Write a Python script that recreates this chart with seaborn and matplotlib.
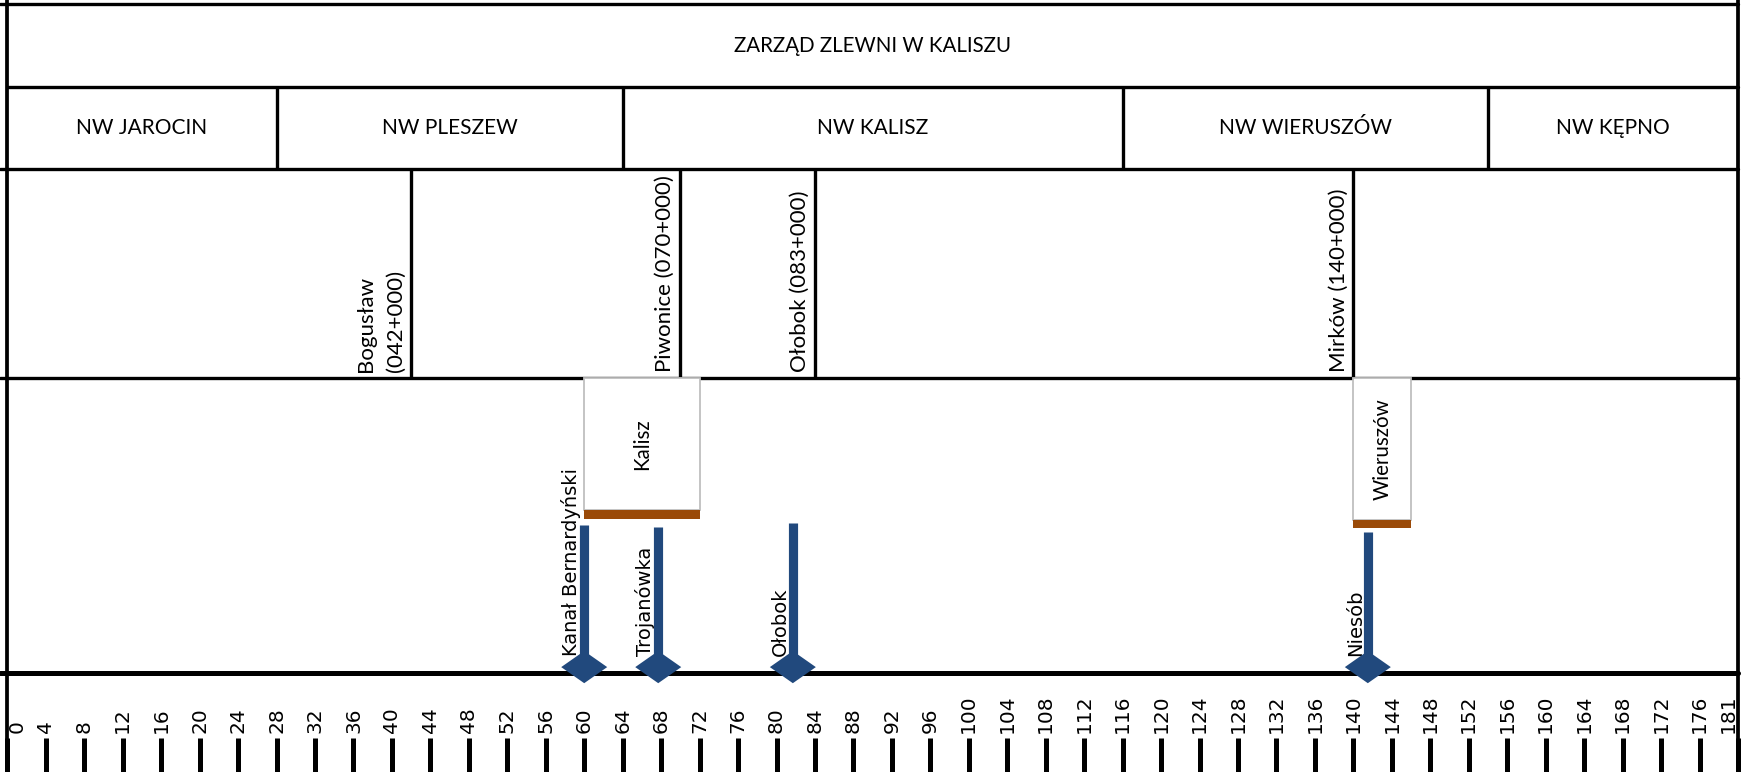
import matplotlib
matplotlib.use("Agg")
import matplotlib.pyplot as plt
import matplotlib.transforms as mtransforms
from matplotlib.markers import MarkerStyle
from matplotlib.path import Path
import seaborn as sns

# ---------------- data ----------------
header_title = "ZARZĄD ZLEWNI W KALISZU"

nw_names = ["NW JAROCIN", "NW PLESZEW", "NW KALISZ", "NW WIERUSZÓW", "NW KĘPNO"]
nw_bounds_km = [0, 28, 64, 116, 154, 180]

station_labels = ["Bogusław\n(042+000)", "Piwonice (070+000)",
                  "Ołobok (083+000)", "Mirków (140+000)"]
station_km = [42, 70, 84, 140]

city_names = ["Kalisz", "Wieruszów"]
city_start_km = [60, 140]
city_end_km = [72, 146]
city_band_bottom = [52.4, 49.3]
city_band_top = [55.3, 51.9]
city_box_top = [100, 100]

river_names = ["Kanał Bernardyński", "Trojanówka", "Ołobok", "Niesób"]
river_km = [60, 67.7, 81.7, 141.5]
river_top = [50.2, 49.5, 50.9, 47.7]
river_mouth = [2, 2, 2, 2]

tick_km = list(range(0, 177, 4)) + [180]
tick_labels = [str(v) for v in range(0, 177, 4)] + ["181"]

# ---------------- style ----------------
sns.set_theme(style="white")
plt.rcParams["font.family"] = ["DejaVu Sans"]
plt.rcParams["xtick.labelsize"] = 14.5
plt.rcParams["xtick.color"] = "black"
plt.rcParams["xtick.labelcolor"] = "black"
TABLE_FONT = ["Lato", "DejaVu Sans"]

BLUE = "#21497D"
BROWN = "#9A4A08"
LW_TABLE = 2.4

# row levels (chart units; 0 = river axis)
Y_ROW4_TOP = 100.0
Y_ROW3_TOP = 171.19
Y_ROW2_TOP = 198.85
Y_TOP = 226.91
Y_BOTTOM = -22.06

W, H = 1745, 772
fig = plt.figure(figsize=(W / 100, H / 100), dpi=100)
ax = fig.add_axes([7.3 / W, (H - 738) / H, (1738 - 7.3) / W, (738 - 4.3) / H])
ax.set_xlim(0, 180)
ax.set_ylim(Y_BOTTOM, Y_TOP)
for s in ax.spines.values():
    s.set_visible(False)
ax.set_facecolor("white")

stub = -7.3 / (1738 - 7.3)
# horizontal table lines
ax.axhline(Y_TOP, xmin=stub, xmax=1, color="black", lw=LW_TABLE, clip_on=False)
ax.axhline(Y_ROW2_TOP, xmin=0, xmax=1, color="black", lw=LW_TABLE, clip_on=False)
ax.axhline(Y_ROW3_TOP, xmin=stub, xmax=1, color="black", lw=LW_TABLE, clip_on=False)
ax.axhline(Y_ROW4_TOP, xmin=stub, xmax=1, color="black", lw=LW_TABLE, clip_on=False)
ax.axhline(0, xmin=stub, xmax=1, color="black", lw=3.6, clip_on=False, zorder=2)
# outer vertical lines (full height)
for xv in (0, 180):
    ax.axvline(xv, ymin=-0.06, ymax=1.01, color="black", lw=LW_TABLE + 0.3, clip_on=False)

# header
ax.text(90, (Y_ROW2_TOP + Y_TOP) / 2, header_title, ha="center", va="center",
        fontsize=14.8, color="black", family=TABLE_FONT)

# NW row
ax.vlines(nw_bounds_km[1:-1], Y_ROW3_TOP, Y_ROW2_TOP, colors="black", lw=LW_TABLE)
for name, a, b in zip(nw_names, nw_bounds_km[:-1], nw_bounds_km[1:]):
    ax.text((a + b) / 2, (Y_ROW3_TOP + Y_ROW2_TOP) / 2, name, ha="center",
            va="center", fontsize=15, color="black", family=TABLE_FONT)

# stations row
ax.vlines(station_km, Y_ROW4_TOP, Y_ROW3_TOP, colors="black", lw=LW_TABLE)
st_tr = mtransforms.offset_copy(ax.transData, fig=fig, x=-5, y=6.6, units="dots")
for lab, km in zip(station_labels, station_km):
    ax.text(km, Y_ROW4_TOP, lab, rotation=90, rotation_mode="anchor",
            ha="left", va="bottom", multialignment="left", fontsize=16,
            color="black", transform=st_tr, linespacing=1.65, family=TABLE_FONT)

# city boxes (stacked bars)
widths = [e - s for s, e in zip(city_start_km, city_end_km)]
ax.bar(city_start_km, [t - b for t, b in zip(city_box_top, city_band_top)],
       width=widths, bottom=city_band_top, align="edge", color="white",
       edgecolor="#BFBFBF", linewidth=1.3, zorder=3)
ax.bar(city_start_km, [t - b for t, b in zip(city_band_top, city_band_bottom)],
       width=widths, bottom=city_band_bottom, align="edge", color=BROWN,
       linewidth=0, zorder=3)
for name, s, e, b, t in zip(city_names, city_start_km, city_end_km,
                            city_band_top, city_box_top):
    ax.text((s + e) / 2, (b + t) / 2, name, rotation=90, ha="center",
            va="center", fontsize=14.8, color="black", zorder=4,
            family=TABLE_FONT)

# rivers
ax.vlines(river_km, river_mouth, river_top, colors=BLUE, lw=6.6, zorder=3)
diamond = MarkerStyle(Path([(-1, 0), (0, 0.7), (1, 0), (0, -0.7), (-1, 0)],
                           [Path.MOVETO, Path.LINETO, Path.LINETO, Path.LINETO,
                            Path.CLOSEPOLY]))
sns.scatterplot(x=river_km, y=river_mouth, marker=diamond, s=33.1 ** 2,
                color=BLUE, edgecolor="none", linewidth=0, zorder=5, ax=ax,
                legend=False)
rv_tr = mtransforms.offset_copy(ax.transData, fig=fig, x=-7, y=17, units="dots")
for name, km in zip(river_names, river_km):
    ax.text(km, 0, name, rotation=90, rotation_mode="anchor", ha="left",
            va="baseline", fontsize=14, color="black",
            transform=rv_tr, zorder=4)

# km axis
ax.set_xlabel("")
ax.set_ylabel("")
ax.set_yticks([])
ax.set_xticks(tick_km, tick_labels)
ax.tick_params(axis="x", direction="out", length=26, width=3.6, color="black",
               pad=-29.6, bottom=True, labelrotation=90, labelsize=14.5)
labels = ax.get_xticklabels()
for lbl in labels:
    lbl.set_va("bottom")
labels[0].set_ha("left")
labels[-1].set_ha("right")

fig.savefig("out.png", dpi=100, facecolor="white")
